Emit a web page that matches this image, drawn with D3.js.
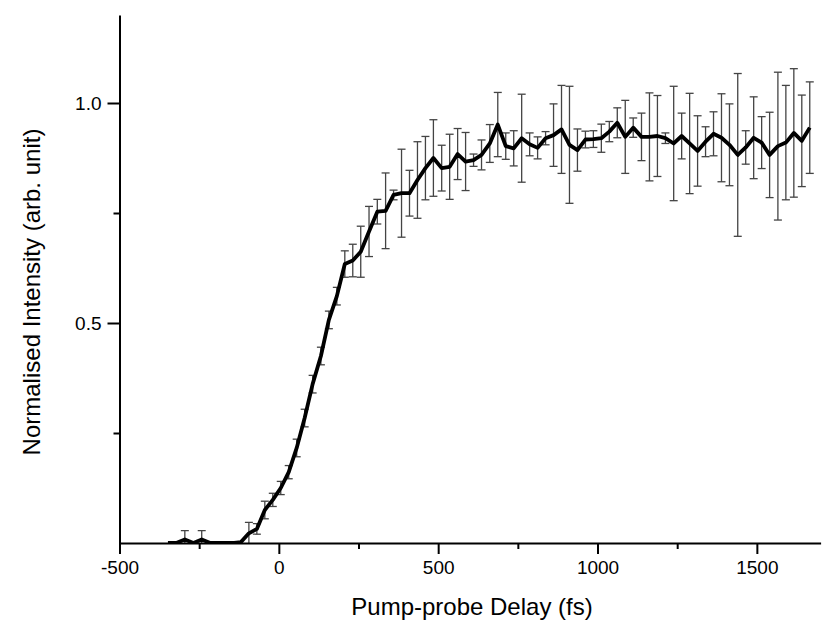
<!DOCTYPE html>
<html>
<head>
<meta charset="utf-8">
<script src="https://cdn.jsdelivr.net/npm/d3@7"></script>
<style>
  html, body { margin: 0; padding: 0; background: #fff; }
  svg { display: block; }
  text { font-family: "Liberation Sans", Arial, sans-serif; fill: #000; }
</style>
</head>
<body>
<svg id="chart" width="832" height="626"></svg>
<script>
// ---- data ----
const delays = [-348, -322, -295, -268, -242, -215, -190, -165, -140, -119,
  -94, -69, -44, -19, 6, 31, 56, 81, 106, 132, 157, 182, 207,
  232, 257, 283, 309, 335, 360, 385, 410, 435, 460, 485,
  511, 536, 561, 586, 611, 636, 662, 687, 712, 737, 762, 787, 812, 837, 862, 887, 912, 937, 962,
  987, 1012, 1037, 1062, 1087, 1112, 1138, 1163, 1188, 1213, 1239, 1264, 1289, 1314, 1339, 1364,
  1389, 1414, 1440, 1465, 1490, 1515, 1540, 1566, 1591, 1616, 1641, 1666];
const intensity = [0, 0, 0.008, 0, 0.008, 0, 0, 0, 0, 0.002,
  0.022, 0.032, 0.075, 0.098, 0.125, 0.161, 0.216, 0.284, 0.361, 0.425, 0.507, 0.561, 0.634,
  0.642, 0.662, 0.708, 0.753, 0.755, 0.791, 0.795, 0.795, 0.825, 0.852, 0.875,
  0.852, 0.855, 0.884, 0.867, 0.870, 0.882, 0.908, 0.951, 0.902, 0.897, 0.920, 0.906, 0.898, 0.920, 0.927, 0.940, 0.905, 0.893, 0.917,
  0.918, 0.920, 0.935, 0.955, 0.923, 0.944, 0.923, 0.923, 0.925, 0.920, 0.908, 0.925, 0.908, 0.891, 0.912, 0.930,
  0.921, 0.905, 0.882, 0.899, 0.921, 0.910, 0.882, 0.902, 0.910, 0.932, 0.914, 0.944];
const errors = [0, 0, 0.02, 0, 0.02, 0, 0, 0, 0, 0,
  0.025, 0.012, 0.02, 0.015, 0.015, 0.015, 0.02, 0.02, 0.02, 0.02, 0.02, 0.02, 0.03,
  0.037, 0.058, 0.057, 0.028, 0.086, 0.011, 0.10, 0.052, 0.087, 0.072, 0.087,
  0.052, 0.074, 0.058, 0.066, 0.014, 0.034, 0.043, 0.073, 0.03, 0.04, 0.10, 0.026, 0.025, 0.015, 0.071, 0.10, 0.133, 0.048, 0.019,
  0.019, 0.032, 0.023, 0.034, 0.083, 0.022, 0.054, 0.10, 0.092, 0.012, 0.13, 0.052, 0.114, 0.08, 0.034, 0.05,
  0.10, 0.093, 0.185, 0.038, 0.093, 0.059, 0.097, 0.168, 0.13, 0.146, 0.104, 0.104];

const xMajorTicks = [-500, 0, 500, 1000, 1500];
const xMajorLabels = ["-500", "0", "500", "1000", "1500"];
const xMinorTicks = [-250, 250, 750, 1250];
const yMajorTicks = [0.5, 1.0];
const yMajorLabels = ["0.5", "1.0"];
const yMinorTicks = [0.25, 0.75];
const xTitle = "Pump-probe Delay (fs)";
const yTitle = "Normalised Intensity (arb. unit)";

// ---- layout ----
const svg = d3.select("#chart");
const x = d3.scaleLinear().domain([-500, 1700]).range([119.5, 820.6]);
const y = d3.scaleLinear().domain([0, 1.2]).range([543, 15]);

const data = delays.map((d, i) => ({ x: d, y: intensity[i], e: errors[i] }));

svg.append("defs").append("clipPath").attr("id", "plotClip")
  .append("rect").attr("x", x(-500)).attr("y", 0)
  .attr("width", x(1700) - x(-500) + 12).attr("height", y(0) - 0);

const plot = svg.append("g").attr("clip-path", "url(#plotClip)");

// error bars
const eb = plot.append("g").attr("stroke", "#444").attr("stroke-width", 1.3).attr("fill", "none");
const cap = 4;
data.filter(d => d.e > 0).forEach(d => {
  const cx = x(d.x), t = y(d.y + d.e), b = y(d.y - d.e);
  eb.append("line").attr("x1", cx).attr("x2", cx).attr("y1", t).attr("y2", b);
  eb.append("line").attr("x1", cx - cap).attr("x2", cx + cap).attr("y1", t).attr("y2", t);
  eb.append("line").attr("x1", cx - cap).attr("x2", cx + cap).attr("y1", b).attr("y2", b);
});

// main line
plot.append("path").datum(data)
  .attr("fill", "none").attr("stroke", "#000").attr("stroke-width", 3.8)
  .attr("stroke-linejoin", "round")
  .attr("d", d3.line().x(d => x(d.x)).y(d => y(d.y)));

// axes
const xAxisG = svg.append("g").attr("transform", `translate(0,${y(0)})`);
xAxisG.call(d3.axisBottom(x).tickValues(xMajorTicks).tickSize(11).tickSizeOuter(0)
  .tickPadding(7).tickFormat((d, i) => xMajorLabels[i]));
const xMinorG = svg.append("g").attr("transform", `translate(0,${y(0)})`);
xMinorG.call(d3.axisBottom(x).tickValues(xMinorTicks).tickSize(6).tickSizeOuter(0).tickFormat(""));
xMinorG.select(".domain").remove();

const yAxisG = svg.append("g").attr("transform", `translate(${x(-500)},0)`);
yAxisG.call(d3.axisLeft(y).tickValues(yMajorTicks).tickSize(12).tickSizeOuter(0)
  .tickPadding(6).tickFormat((d, i) => yMajorLabels[i]));
const yMinorG = svg.append("g").attr("transform", `translate(${x(-500)},0)`);
yMinorG.call(d3.axisLeft(y).tickValues(yMinorTicks).tickSize(6).tickSizeOuter(0).tickFormat(""));
yMinorG.select(".domain").remove();

[xAxisG, xMinorG, yAxisG, yMinorG].forEach(g => {
  g.selectAll(".domain").attr("stroke", "#000").attr("stroke-width", 2);
  g.selectAll(".tick line").attr("stroke", "#000").attr("stroke-width", 2);
  g.selectAll(".tick text").attr("font-size", 19).attr("font-family", "Liberation Sans, Arial, sans-serif").attr("fill", "#000");
});

// titles
svg.append("text").attr("x", 472).attr("y", 615).attr("text-anchor", "middle")
  .attr("font-size", 24).text(xTitle);
svg.append("text").attr("transform", `translate(40,292) rotate(-90)`)
  .attr("text-anchor", "middle").attr("font-size", 24).text(yTitle);
</script>
</body>
</html>
